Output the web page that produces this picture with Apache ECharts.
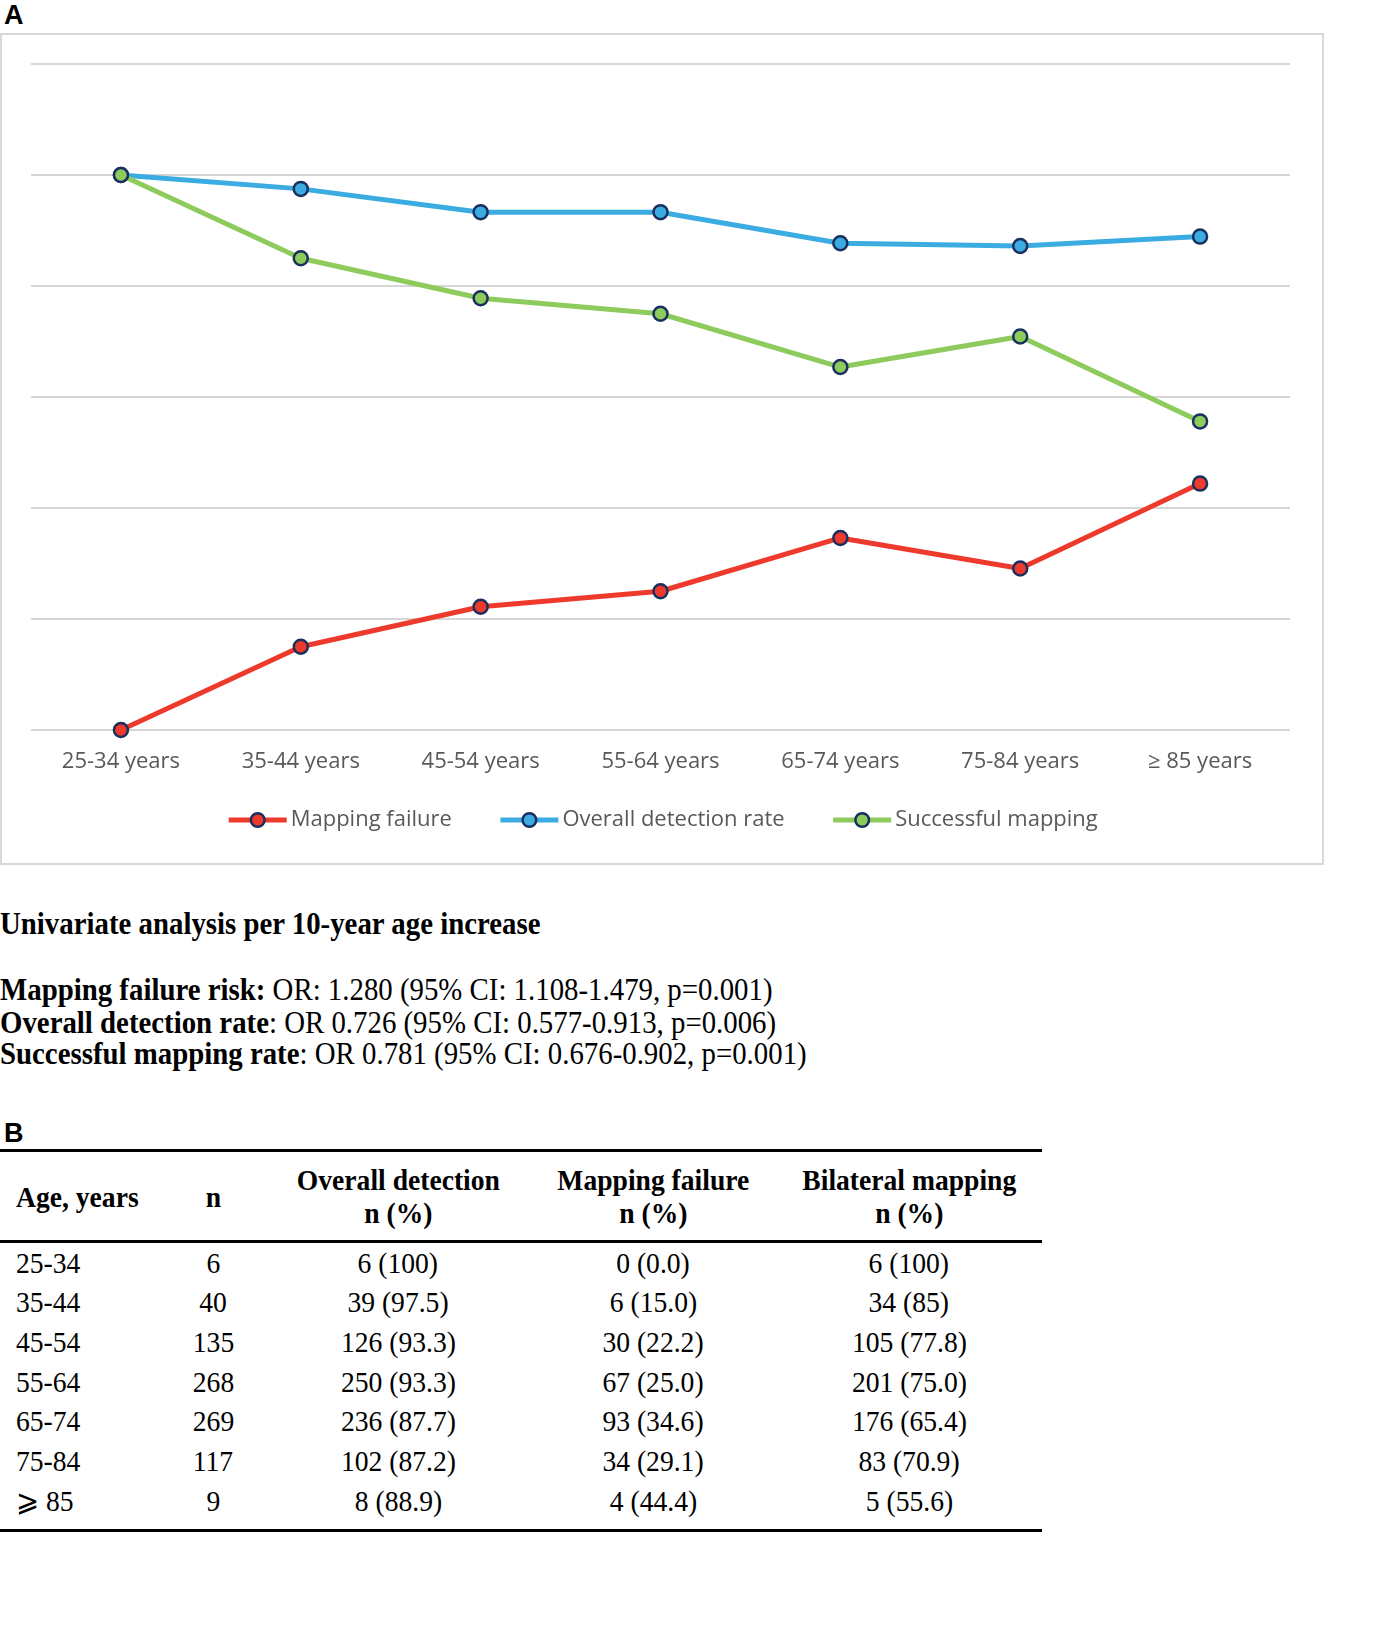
<!DOCTYPE html>
<html>
<head>
<meta charset="utf-8">
<script src="https://cdn.jsdelivr.net/npm/echarts@6/dist/echarts.min.js"></script>
<style>
  html, body { margin: 0; padding: 0; background: #fff; }
  body { width: 1383px; height: 1633px; position: relative; overflow: hidden; }
  .panel { position: absolute; font-family: "Liberation Sans", Arial, sans-serif; font-weight: bold; font-size: 27px; }
  #box { position: absolute; left: 0; top: 33px; width: 1324px; height: 832px; box-sizing: border-box; border: 2px solid #d8d8d8; }
  #main { width: 100%; height: 100%; }
  .txt { position: absolute; left: 0; font-family: "Liberation Serif", "Times New Roman", serif; font-size: 31px; color: #000;
         white-space: nowrap; transform: scaleX(0.93); transform-origin: left center; }
  .txt b { font-weight: bold; }
  #tbl { position: absolute; left: 0; top: 1149px; width: 1042px; border-collapse: collapse;
         font-family: "Liberation Serif", "Times New Roman", serif; font-size: 30px; color: #000; }
  #tbl thead tr { border-top: 3px solid #000; border-bottom: 3px solid #000; }
  #tbl tbody tr:last-child { border-bottom: 3px solid #000; }
  #tbl th { font-weight: bold; height: 88px; line-height: 33px; padding: 0; text-align: center; }
  #tbl td { height: 39.6px; line-height: 30px; padding: 0; text-align: center; }
  #tbl tbody tr:last-child td { height: 40px; padding-bottom: 8px; }
  #tbl th:first-child, #tbl td:first-child { text-align: left; padding-left: 16px; }
  #tbl span { display: inline-block; white-space: nowrap; transform: scaleX(0.92); transform-origin: center center; }
  #tbl th:first-child span, #tbl td:first-child span { transform-origin: left center; }
</style>
</head>
<body>
<div class="panel" style="left:4px; top:0px;">A</div>
<div id="box"><div id="main"></div></div>

<div class="txt" style="top:906px;"><b>Univariate analysis per 10-year age increase</b></div>
<div class="txt" style="top:972px;"><b>Mapping failure risk:</b> OR: 1.280 (95% CI: 1.108-1.479, p=0.001)</div>
<div class="txt" style="top:1005px;"><b>Overall detection rate</b>: OR 0.726 (95% CI: 0.577-0.913, p=0.006)</div>
<div class="txt" style="top:1036px;"><b>Successful mapping rate</b>: OR 0.781 (95% CI: 0.676-0.902, p=0.001)</div>

<div class="panel" style="left:4px; top:1118px;">B</div>
<table id="tbl">
  <colgroup>
    <col style="width:160px"><col style="width:106px"><col style="width:264px"><col style="width:246px"><col style="width:266px">
  </colgroup>
  <thead></thead>
  <tbody></tbody>
</table>

<script>
// age groups
var ageGroups = ['25-34', '35-44', '45-54', '55-64', '65-74', '75-84', '≥ 85'];
var tableAges = ['25-34', '35-44', '45-54', '55-64', '65-74', '75-84', '⩾ 85'];
var patients = [6, 40, 135, 268, 269, 117, 9];
// counts and percentages as printed in the table
var detectedN = [6, 39, 126, 250, 236, 102, 8];
var detectedPct = ['100', '97.5', '93.3', '93.3', '87.7', '87.2', '88.9'];
var failureN = [0, 6, 30, 67, 93, 34, 4];
var failurePct = ['0.0', '15.0', '22.2', '25.0', '34.6', '29.1', '44.4'];
var bilateralN = [6, 34, 105, 201, 176, 83, 5];
var bilateralPct = ['100', '85', '77.8', '75.0', '65.4', '70.9', '55.6'];

var headers = ['Age, years', 'n', 'Overall detection<br>n (%)', 'Mapping failure<br>n (%)', 'Bilateral mapping<br>n (%)'];

// table B
function cell(tag, s) { return '<' + tag + '><span>' + s + '</span></' + tag + '>'; }
var thead = document.querySelector('#tbl thead');
thead.innerHTML = '<tr>' + headers.map(function (h) { return cell('th', h); }).join('') + '</tr>';
var tbody = document.querySelector('#tbl tbody');
tbody.innerHTML = tableAges.map(function (a, i) {
  return '<tr>' + cell('td', a) + cell('td', patients[i]) +
    cell('td', detectedN[i] + ' (' + detectedPct[i] + ')') +
    cell('td', failureN[i] + ' (' + failurePct[i] + ')') +
    cell('td', bilateralN[i] + ' (' + bilateralPct[i] + ')') + '</tr>';
}).join('');

// chart A
var myChart = echarts.init(document.getElementById('main'));
var markerBorder = '#1B2F5E';
function lineSeries(name, color, values) {
  return {
    name: name,
    type: 'line',
    data: values.map(Number),
    symbol: 'circle',
    symbolSize: 14,
    lineStyle: { color: color, width: 5 },
    itemStyle: { color: color, borderColor: markerBorder, borderWidth: 2.5 },
    emphasis: { disabled: true }
  };
}
myChart.setOption({
  animation: false,
  grid: { left: 29, right: 32, top: 29, bottom: 133 },
  legend: {
    left: 'center',
    top: 769,
    itemWidth: 58,
    itemHeight: 17,
    itemGap: 46,
    lineStyle: { width: 5 },
    itemStyle: { borderColor: markerBorder, borderWidth: 2.5 },
    textStyle: { color: '#595959', fontSize: 22, fontFamily: 'Open Sans', padding: [0, 0, 0, -1] },
    data: ['Mapping failure', 'Overall detection rate', 'Successful mapping']
  },
  xAxis: {
    type: 'category',
    boundaryGap: true,
    data: ageGroups.map(function (a) { return a + ' years'; }),
    axisLine: { show: false },
    axisTick: { show: false },
    axisLabel: { color: '#595959', fontSize: 22, fontFamily: 'Open Sans', margin: 21 }
  },
  yAxis: {
    type: 'value',
    min: 0,
    max: 120,
    interval: 20,
    axisLabel: { show: false },
    axisLine: { show: false },
    axisTick: { show: false },
    splitLine: { lineStyle: { color: '#d6d6d6', width: 2 } }
  },
  series: [
    lineSeries('Mapping failure', '#EE3A2C', failurePct),
    lineSeries('Overall detection rate', '#3AACE2', detectedPct),
    lineSeries('Successful mapping', '#8ECB5D', bilateralPct)
  ]
});
</script>
</body>
</html>
